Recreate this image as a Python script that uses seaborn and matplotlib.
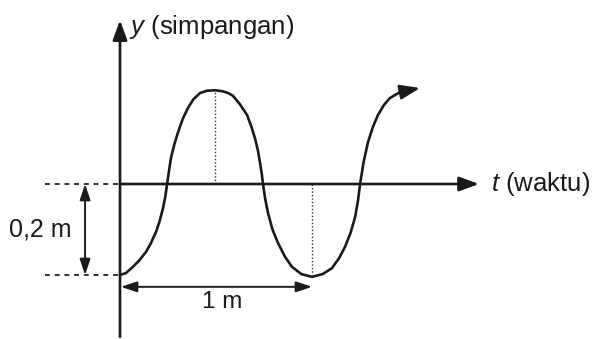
import pandas as pd
import matplotlib
matplotlib.use("Agg")
import matplotlib.pyplot as plt
import seaborn as sns

# wave: t in m (1 m = one wavelength), y in m
t_vals = [0.000, 0.030, 0.067, 0.100, 0.135, 0.160, 0.187, 0.205, 0.223, 0.235,
          0.244, 0.254, 0.264, 0.282, 0.301, 0.325, 0.352, 0.380, 0.415, 0.450,
          0.492, 0.530, 0.560, 0.585, 0.620, 0.658, 0.680, 0.699, 0.714, 0.725,
          0.734, 0.741, 0.752, 0.767, 0.790, 0.819, 0.855, 0.891, 0.940, 0.995,
          1.050, 1.098, 1.135, 1.166, 1.195, 1.218, 1.233, 1.244, 1.262, 1.285,
          1.310, 1.337, 1.368, 1.399, 1.451]
y_vals = [-0.200, -0.196, -0.182, -0.168, -0.149, -0.130, -0.105, -0.082, -0.053, -0.027,
          0.000, 0.029, 0.057, 0.088, 0.114, 0.143, 0.167, 0.186, 0.200, 0.205,
          0.206, 0.204, 0.200, 0.194, 0.176, 0.152, 0.127, 0.101, 0.075, 0.048,
          0.024, 0.000, -0.032, -0.064, -0.100, -0.130, -0.160, -0.182, -0.198, -0.204,
          -0.198, -0.185, -0.163, -0.138, -0.107, -0.073, -0.037, 0.000, 0.048, 0.092,
          0.125, 0.152, 0.174, 0.189, 0.202]
arrow_tip = (1.555, 0.211)

peak = (0.492, 0.206)
trough = (0.995, -0.2)
amplitude_label = "0,2 m"
wavelength_label = "1 m"
y_label = "$y$ (simpangan)"
x_label = "$t$ (waktu)"

sns.set_style("white")
plt.rcParams['font.family'] = ['Liberation Sans', 'DejaVu Sans']
plt.rcParams['mathtext.fontset'] = 'custom'
plt.rcParams['mathtext.it'] = 'Liberation Sans:italic'
plt.rcParams['mathtext.rm'] = 'Liberation Sans'

ink = "#1a1a1a"

fig = plt.figure(figsize=(6, 3.39), dpi=100)
ax = fig.add_axes([0, 0, 1, 1])
# pixel mapping: t=0 at px 120, 193 px per m; y=0 at px 184, 455 px per m
ax.set_xlim(-120 / 193, 480 / 193)
ax.set_ylim(-155 / 455, 184 / 455)
ax.axis("off")

df = pd.DataFrame({"t": t_vals, "y": y_vals})
sns.lineplot(data=df, x="t", y="y", ax=ax, color=ink, lw=1.9,
             sort=False, estimator=None)

arr = dict(arrowstyle="-|>,head_length=0.6,head_width=0.22", color=ink,
           lw=1.9, shrinkA=0, shrinkB=0, mutation_scale=20)
# wave end arrow
ax.annotate("", xy=arrow_tip, xytext=(t_vals[-1], y_vals[-1]), arrowprops=arr)
# axes
ax.annotate("", xy=(0, 0.36), xytext=(0, -0.336), arrowprops=arr)
ax.annotate("", xy=(1.86, 0), xytext=(0, 0), arrowprops=arr)

ax.text(0.045, 0.344, y_label, fontsize=18.5, va="center", ha="left", color=ink)
ax.text(1.92, 0.0, x_label, fontsize=18.5, va="center", ha="left", color=ink)

# dotted guides
ax.plot([peak[0], peak[0]], [0, peak[1]], color="#333333", lw=1.0, ls=(0, (1, 1.5)))
ax.plot([trough[0], trough[0]], [0, trough[1]], color="#333333", lw=1.0, ls=(0, (1, 1.5)))
ax.plot([-0.39, 0], [0, 0], color="#333333", lw=1.4, ls=(0, (2.5, 2.5)))
ax.plot([-0.39, 0], [trough[1], trough[1]], color="#333333", lw=1.4, ls=(0, (2.5, 2.5)))

# dimension arrows
dim = dict(arrowstyle="<|-|>,head_length=0.6,head_width=0.2", color=ink,
           lw=1.4, shrinkA=0, shrinkB=0, mutation_scale=16)
ax.annotate("", xy=(-0.181, 0), xytext=(-0.181, trough[1]), arrowprops=dim)
ax.annotate("", xy=(0.005, -0.226), xytext=(trough[0], -0.226), arrowprops=dim)

ax.text(-0.415, -0.101, amplitude_label, fontsize=18, va="center", ha="center", color=ink)
ax.text(0.528, -0.259, wavelength_label, fontsize=17.5, va="center", ha="center", color=ink)

fig.savefig("out.png", dpi=100)
